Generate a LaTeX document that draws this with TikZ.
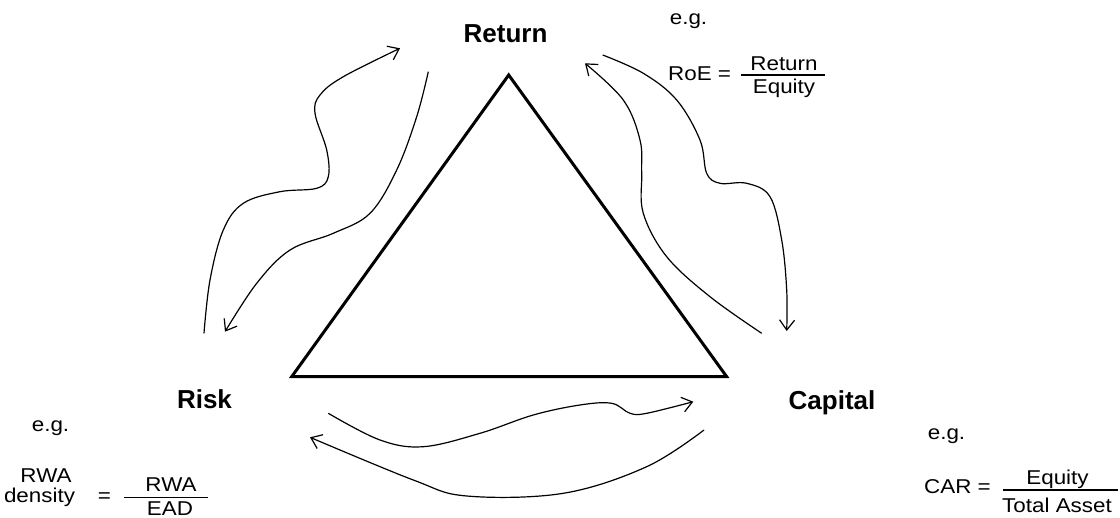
\documentclass[tikz,border=0pt]{standalone}
\usepackage{fontspec}
\setmainfont{Liberation Sans}
\newfontfamily\widesans[FakeStretch=1.12]{Liberation Sans}
\usetikzlibrary{arrows.meta}
\tikzset{
  lbl/.style={font=\fontsize{26}{30}\selectfont\bfseries, inner sep=0pt},
  txt/.style={font=\widesans\fontsize{20}{24}\selectfont, inner sep=0pt},
  tri/.style={line width=3pt, line join=miter},
  flow/.style={line width=1.2pt, -{Straight Barb[length=10pt,width=15pt,line width=1.2pt]}},
  frac/.style={line width=1.3pt},
}
\begin{document}
\begin{tikzpicture}[x=1pt,y=-1pt]
\useasboundingbox (0,0) rectangle (1120,518);
% triangle
\coordinate (top) at (508.7,75);
\coordinate (bl) at (291.7,376.7);
\coordinate (br) at (726.7,376.7);
\draw[tri] (top) -- (bl) -- (br) -- cycle;
% main labels
\node[lbl, anchor=base] (return) at (505.5,42.5) {Return};
\node[lbl, anchor=base] (risk) at (204.5,408.5) {Risk};
\node[lbl, anchor=base] (capital) at (832,409.3) {Capital};
% RoE
\node[txt, anchor=base] (eg1) at (688.5,25) {e.g.};
\node[txt, anchor=base west] (roe) at (668,81) {RoE =};
\coordinate (f1a) at (741,75);
\coordinate (f1b) at (825,75);
\draw[frac] (f1a) -- (f1b);
\node[txt, anchor=base] (roen) at (784,70.7) {Return};
\node[txt, anchor=base] (roed) at (784,94) {Equity};
% RWA density
\node[txt, anchor=base] (eg2) at (50.5,432) {e.g.};
\node[txt, anchor=base] (rwa1) at (46,483) {RWA};
\node[txt, anchor=base] (dens) at (39.5,502.5) {density};
\node[txt, anchor=base] (eq2) at (104.5,502.5) {=};
\coordinate (f2a) at (124,497.7);
\coordinate (f2b) at (208,497.7);
\draw[frac] (f2a) -- (f2b);
\node[txt, anchor=base] (rwan) at (171,491.7) {RWA};
\node[txt, anchor=base] (ead) at (170,515) {EAD};
% CAR
\node[txt, anchor=base] (eg3) at (946.5,440) {e.g.};
\node[txt, anchor=base west] (car) at (924,493.3) {CAR =};
\coordinate (f3a) at (1003,490);
\coordinate (f3b) at (1118,490);
\draw[frac] (f3a) -- (f3b);
\node[txt, anchor=base] (carn) at (1057.5,485) {Equity};
\node[txt, anchor=base] (card) at (1057,512.7) {Total Asset};
% connector end points
\coordinate (a1) at (204,333.3);   \coordinate (a2) at (400,48.3);
\coordinate (b1) at (428.3,71.7);  \coordinate (b2) at (225,331.7);
\coordinate (c1) at (761.7,333.3); \coordinate (c2) at (585,63.3);
\coordinate (d1) at (602.7,55);    \coordinate (d2) at (786.7,331);
\coordinate (e1) at (328.3,413.3); \coordinate (e2) at (693.3,401.7);
\coordinate (g1) at (704,430);     \coordinate (g2) at (310,437.3);
% Risk -> Return
\draw[flow] plot[smooth, tension=0.6] coordinates {(a1) (210,280) (223.3,230) (243.3,203.3) (280,191.7) (316.7,188.3) (328.3,176.7) (326.7,150) (315,113.3) (320,95) (343.3,76.7) (a2)};
% Return -> Risk
\draw[flow] plot[smooth, tension=0.6] coordinates {(b1) (416.7,116.7) (396.7,170) (370,213.3) (333.3,233.3) (290,250) (256.7,283.3) (b2)};
% Capital -> Return
\draw[flow] plot[smooth, tension=0.6] coordinates {(c1) (710,296.7) (666.7,256.7) (643.3,213.3) (641.7,173.3) (640,140) (623.3,100) (c2)};
% Return -> Capital
\draw[flow] plot[smooth, tension=0.6] coordinates {(d1) (643.3,73.3) (676.7,100) (700,140) (706.7,173.3) (720,183.3) (746.7,183.3) (770,196.7) (781.7,240) (786.7,290) (d2)};
% Risk -> Capital
\draw[flow] plot[smooth, tension=0.6] coordinates {(e1) (380,440) (423.3,446.7) (480,433.3) (533.3,415) (580,405) (611.7,403.3) (630,413.3) (646.7,413.3) (e2)};
% Capital -> Risk
\draw[flow] plot[smooth, tension=0.6] coordinates {(g1) (646.7,466.7) (563.3,493.3) (466.7,496) (413.3,480) (g2)};
\end{tikzpicture}
\end{document}
